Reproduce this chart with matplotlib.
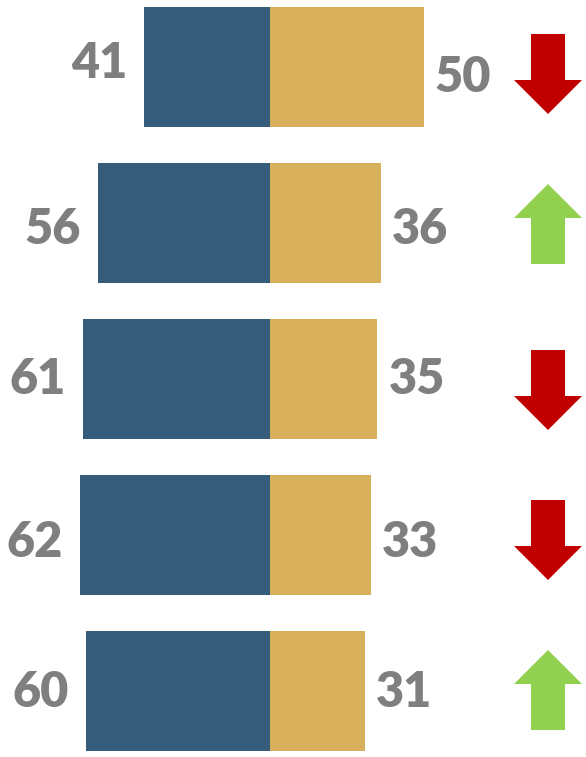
import matplotlib.pyplot as plt
from matplotlib.patches import Polygon

left_vals = [41, 56, 61, 62, 60]
right_vals = [50, 36, 35, 33, 31]
trend = ['down', 'up', 'down', 'down', 'up']

blue = '#365C7C'
gold = '#D8B05C'
gray = '#7F7F7F'
arrow_colors = {'down': '#C00000', 'up': '#92D050'}

px = 3.07    # pixels per value unit
row = 156    # pixels per row

# small hand nudges (pixels) to mimic the original slide layout
left_dy = [-6, 4, -2, 5, -1]
right_dy = [8, 4, -2, 5, -1]
arrow_dy = [7, 1, 11, 5, -1]

fig = plt.figure(figsize=(5.86, 7.57), dpi=100)
ax = fig.add_axes([0, 0, 1, 1])
ax.set_xlim(-270 / px, (586 - 270) / px)
ax.set_ylim((757 - 67) / row, -67 / row)
ax.set_axis_off()

ys = list(range(len(left_vals)))
ax.barh(ys, [-v for v in left_vals], height=120 / row, color=blue)
ax.barh(ys, right_vals, height=120 / row, color=gold)

font = dict(fontsize=35, fontweight='heavy', color=gray, family=['Lato', 'DejaVu Sans'])
for y, lv, rv, ld, rd in zip(ys, left_vals, right_vals, left_dy, right_dy):
    ax.text(-lv - 17 / px, y + (17 + ld) / row, str(lv), ha='right', va='baseline', **font)
    ax.text(rv + 11 / px, y + (17 + rd) / row, str(rv), ha='left', va='baseline', **font)

# arrows
xc = (548 - 270) / px
sw, hw = 17 / px, 34 / px
total, head = 80 / row, 34 / row
for y, t, d in zip(ys, trend, arrow_dy):
    yc = y + d / row
    s = 1 if t == 'down' else -1
    top = yc - s * total / 2
    neck = top + s * (total - head)
    tip = yc + s * total / 2
    pts = [(xc - sw, top), (xc + sw, top), (xc + sw, neck), (xc + hw, neck),
           (xc, tip), (xc - hw, neck), (xc - sw, neck)]
    ax.add_patch(Polygon(pts, closed=True, color=arrow_colors[t], lw=0))

plt.savefig('out.png', dpi=100)
